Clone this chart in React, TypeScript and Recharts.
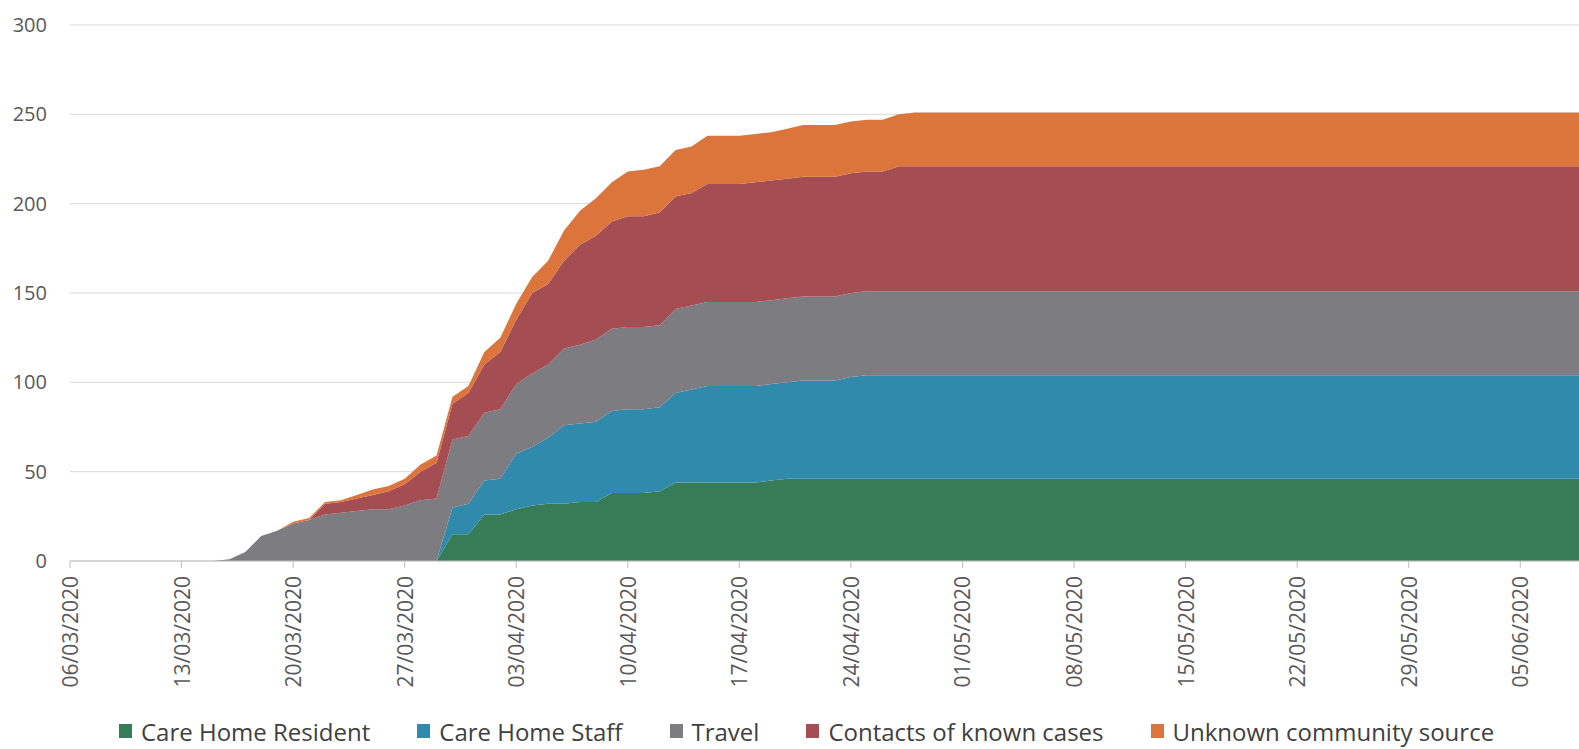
import { AreaChart, Area, XAxis, YAxis, CartesianGrid } from "recharts";

// cumulative cases per source, one value per day from 06/03/2020
const careHomeResident = [
  0, 0, 0, 0, 0, 0, 0, 0, 0, 0,
  0, 0, 0, 0, 0, 0, 0, 0, 0, 0,
  0, 0, 0, 0,
  15, 15, 26, 26, 29, 31, 32, 32, 33, 33,
  38, 38, 38, 39, 44, 44, 44, 44, 44, 44,
  45, 46, 46, 46, 46, 46, 46, 46, 46, 46,
  46, 46, 46, 46, 46, 46, 46, 46, 46, 46,
  46, 46, 46, 46, 46, 46, 46, 46, 46, 46,
  46, 46, 46, 46, 46, 46, 46, 46, 46, 46,
  46, 46, 46, 46, 46, 46, 46, 46, 46, 46,
  46, 46,
];

const careHomeStaff = [
  0, 0, 0, 0, 0, 0, 0, 0, 0, 0,
  0, 0, 0, 0, 0, 0, 0, 0, 0, 0,
  0, 0, 0, 0,
  15, 17, 19, 20, 31, 33, 37, 44, 44, 45,
  46, 47, 47, 47, 50, 52, 54, 54, 54, 54,
  54, 54, 55, 55, 55, 57, 58, 58, 58, 58,
  58, 58, 58, 58, 58, 58, 58, 58, 58, 58,
  58, 58, 58, 58, 58, 58, 58, 58, 58, 58,
  58, 58, 58, 58, 58, 58, 58, 58, 58, 58,
  58, 58, 58, 58, 58, 58, 58, 58, 58, 58,
  58, 58,
];

const travel = [
  0, 0, 0, 0, 0, 0, 0, 0, 0, 0,
  1, 5, 14, 17, 21, 23, 26, 27, 28, 29,
  29, 31, 34, 35,
  38, 38, 38, 39, 39, 41, 41, 43, 44, 46,
  46, 46, 46, 46, 47, 47, 47, 47, 47, 47,
  47, 47, 47, 47, 47, 47, 47, 47, 47, 47,
  47, 47, 47, 47, 47, 47, 47, 47, 47, 47,
  47, 47, 47, 47, 47, 47, 47, 47, 47, 47,
  47, 47, 47, 47, 47, 47, 47, 47, 47, 47,
  47, 47, 47, 47, 47, 47, 47, 47, 47, 47,
  47, 47,
];

const contacts = [
  0, 0, 0, 0, 0, 0, 0, 0, 0, 0,
  0, 0, 0, 0, 0, 0, 6, 6, 7, 8,
  10, 12, 16, 20,
  20, 24, 27, 32, 36, 45, 45, 49, 56, 58,
  60, 62, 62, 63, 63, 63, 66, 66, 66, 67,
  67, 67, 67, 67, 67, 67, 67, 67, 70, 70,
  70, 70, 70, 70, 70, 70, 70, 70, 70, 70,
  70, 70, 70, 70, 70, 70, 70, 70, 70, 70,
  70, 70, 70, 70, 70, 70, 70, 70, 70, 70,
  70, 70, 70, 70, 70, 70, 70, 70, 70, 70,
  70, 70,
];

const unknownCommunity = [
  0, 0, 0, 0, 0, 0, 0, 0, 0, 0,
  0, 0, 0, 0, 1, 1, 1, 1, 2, 3,
  3, 3, 4, 4,
  4, 4, 7, 8, 9, 9, 13, 17, 19, 21,
  22, 25, 26, 26, 26, 26, 27, 27, 27, 27,
  27, 28, 29, 29, 29, 29, 29, 29, 29, 30,
  30, 30, 30, 30, 30, 30, 30, 30, 30, 30,
  30, 30, 30, 30, 30, 30, 30, 30, 30, 30,
  30, 30, 30, 30, 30, 30, 30, 30, 30, 30,
  30, 30, 30, 30, 30, 30, 30, 30, 30, 30,
  30, 30,
];

const yTicks = [0, 50, 100, 150, 200, 250, 300];

const series = [
  { key: "resident", name: "Care Home Resident", color: "#367d57" },
  { key: "staff", name: "Care Home Staff", color: "#308aab" },
  { key: "travel", name: "Travel", color: "#7d7c81" },
  { key: "contacts", name: "Contacts of known cases", color: "#a44d53" },
  { key: "unknown", name: "Unknown community source", color: "#dc753b" },
];

function formatDay(offset: number): string {
  const d = new Date(2020, 2, 6 + offset);
  const dd = String(d.getDate()).padStart(2, "0");
  const mm = String(d.getMonth() + 1).padStart(2, "0");
  return `${dd}/${mm}/${d.getFullYear()}`;
}

const data = careHomeResident.map((v, i) => ({
  date: formatDay(i),
  resident: v,
  staff: careHomeStaff[i],
  travel: travel[i],
  contacts: contacts[i],
  unknown: unknownCommunity[i],
}));

const FONT = "'Open Sans', sans-serif";

function DateTick({ x, y, payload }: { x?: number; y?: number; payload?: { value: string } }) {
  return (
    <text
      x={0}
      y={0}
      transform={`translate(${x},${(y ?? 0) + 6}) rotate(-90)`}
      textAnchor="end"
      dominantBaseline="central"
      fill="#595959"
      fontSize={21}
      fontFamily={FONT}
    >
      {payload?.value}
    </text>
  );
}

export default function App() {
  return (
    <div
      style={{
        position: "fixed",
        left: 0,
        top: 0,
        width: 1579,
        height: 749,
        overflow: "hidden",
        background: "#fff",
      }}
    >
      <AreaChart
        width={1584}
        height={749}
        data={data}
        margin={{ top: 25, right: 0, bottom: 0, left: 0 }}
      >
        <CartesianGrid vertical={false} stroke="#d9d9d9" />
        <XAxis
          dataKey="date"
          interval={6}
          height={188}
          tickSize={7}
          tickMargin={2}
          stroke="#bfbfbf"
          tick={<DateTick />}
        />
        <YAxis
          domain={[0, 300]}
          ticks={yTicks}
          width={70}
          axisLine={false}
          tickLine={false}
          tickSize={0}
          tickMargin={23}
          tick={{ fill: "#595959", fontSize: 20, fontFamily: FONT }}
        />
        {series.map((s) => (
          <Area
            key={s.key}
            type="linear"
            dataKey={s.key}
            name={s.name}
            stackId="1"
            stroke="none"
            fill={s.color}
            fillOpacity={1}
            isAnimationActive={false}
          />
        ))}
      </AreaChart>
      <div
        style={{
          position: "absolute",
          left: 119,
          top: 714,
          height: 34,
          display: "flex",
          alignItems: "center",
          gap: 47,
          fontFamily: FONT,
          fontSize: 24,
          color: "#404040",
          whiteSpace: "nowrap",
        }}
      >
        {series.map((s) => (
          <div key={s.key} style={{ display: "flex", alignItems: "center", gap: 9 }}>
            <span style={{ width: 13, height: 14, background: s.color, display: "inline-block" }} />
            <span>{s.name}</span>
          </div>
        ))}
      </div>
    </div>
  );
}
